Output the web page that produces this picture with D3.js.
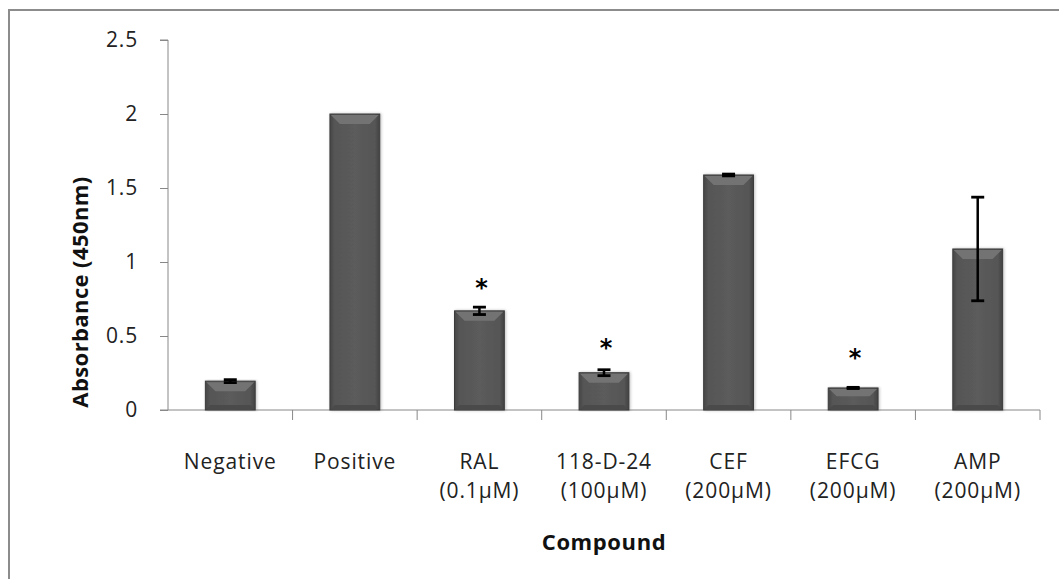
<!DOCTYPE html>
<html><head><meta charset="utf-8">
<script src="https://cdn.jsdelivr.net/npm/d3@7"></script>
<style>
html,body{margin:0;padding:0;background:#fff;}
svg{display:block;}
text{font-family:"Open Sans",sans-serif;}
</style></head>
<body>
<svg id="chart" width="1059" height="579"></svg>
<script>
const categories = [["Negative"],["Positive"],["RAL","(0.1\u00b5M)"],["118-D-24","(100\u00b5M)"],["CEF","(200\u00b5M)"],["EFCG","(200\u00b5M)"],["AMP","(200\u00b5M)"]];
const values = [0.195, 2.0, 0.67, 0.252, 1.588, 0.149, 1.088];
const errors = [0.01, 0.0, 0.025, 0.02, 0.006, 0.004, 0.35];
const asteriskLevels = [null, null, 0.865, 0.46, null, 0.39, null];
const yTicks = [0, 0.5, 1, 1.5, 2, 2.5];
const yTitle = "Absorbance (450nm)";
const xTitle = "Compound";

const svg = d3.select("#chart");
const m = {left:168, right:1040, top:40, bottom:410};
const x = d3.scaleBand().domain(d3.range(categories.length)).range([m.left, m.right]).paddingInner(0.6).paddingOuter(0.3);
const xb = d3.scaleBand().domain(d3.range(categories.length)).range([m.left, m.right]);
const y = d3.scaleLinear().domain([0, 2.5]).range([m.bottom, m.top]);

svg.append("rect").attr("x",9).attr("y",10).attr("width",1100).attr("height",620)
  .attr("fill","none").attr("stroke","#8c8c8c").attr("stroke-width",2);

const defs = svg.append("defs");
const g1 = defs.append("linearGradient").attr("id","barg").attr("x1","0").attr("x2","1").attr("y1","0").attr("y2","0");
g1.append("stop").attr("offset","0").attr("stop-color","#474747");
g1.append("stop").attr("offset","0.1").attr("stop-color","#565656");
g1.append("stop").attr("offset","0.5").attr("stop-color","#5b5b5b");
g1.append("stop").attr("offset","0.9").attr("stop-color","#565656");
g1.append("stop").attr("offset","1").attr("stop-color","#424242");
const f = defs.append("filter").attr("id","sh").attr("x","-20%").attr("y","-5%").attr("width","140%").attr("height","110%");
f.append("feGaussianBlur").attr("in","SourceAlpha").attr("stdDeviation",1.5);
f.append("feOffset").attr("dx",1).attr("dy",0).attr("result","b");
f.append("feComponentTransfer").append("feFuncA").attr("type","linear").attr("slope",0.25);
const mg = f.append("feMerge"); mg.append("feMergeNode"); mg.append("feMergeNode").attr("in","SourceGraphic");

// y axis
const yAxis = d3.axisLeft(y).tickValues(yTicks).tickSize(8).tickPadding(22).tickFormat(d3.format("~g"));
const ya = svg.append("g").attr("transform",`translate(${m.left},0)`).call(yAxis);
ya.select(".domain").attr("stroke","#888").attr("d",`M-8,${m.top}H0V${m.bottom}`);
ya.selectAll(".tick line").attr("stroke","#888");
ya.selectAll(".tick text").attr("fill","#222").style("font-size","21px").style("letter-spacing","0.8px").style("font-family",'"Open Sans",sans-serif');

// x axis
const xAxis = d3.axisBottom(xb).tickSize(0).tickFormat("");
const xa = svg.append("g").attr("transform",`translate(0,${m.bottom})`).call(xAxis);
xa.select(".domain").attr("stroke","#888").attr("d",`M${m.left-8},0H${m.right}`);
xa.selectAll(".tick").remove();
const bounds = d3.range(categories.length+1).map(i => m.left + i*xb.bandwidth());
xa.selectAll("line.sep").data(bounds.slice(1)).join("line").attr("class","sep")
  .attr("x1",d=>d).attr("x2",d=>d).attr("y1",0).attr("y2",10).attr("stroke","#888");

// bars
const bars = svg.append("g").selectAll("g.bar").data(values).join("g").attr("class","bar");
bars.append("rect").attr("x",(d,i)=>x(i)).attr("y",d=>y(d)).attr("width",x.bandwidth())
  .attr("height",d=>y(0)-y(d)).attr("fill","url(#barg)").attr("stroke","#3c3c3c").attr("stroke-width",1).attr("filter","url(#sh)");
bars.append("path").attr("d",(d,i)=>{
  const x0=x(i)+1, x1=x(i)+x.bandwidth()-1, t=y(d)+1, h=Math.min(9,(y(0)-y(d))/3);
  return `M${x0},${t}L${x1},${t}L${x1-h},${t+h}L${x0+h},${t+h}Z`;
}).attr("fill","#737373");
bars.append("path").attr("d",(d,i)=>{
  const x0=x(i)+1, x1=x(i)+x.bandwidth()-1, b=y(0)-1, h=Math.min(4,(y(0)-y(d))/4);
  return `M${x0},${b}L${x1},${b}L${x1-h},${b-h}L${x0+h},${b-h}Z`;
}).attr("fill","#4a4a4a");

// error bars
const errData = values.map((v,i)=>({v,e:errors[i],i})).filter(d=>d.e>0);
const eb = svg.append("g").selectAll("g.err").data(errData).join("g").attr("class","err");
eb.append("line").attr("x1",d=>xb(d.i)+xb.bandwidth()/2).attr("x2",d=>xb(d.i)+xb.bandwidth()/2)
  .attr("y1",d=>y(d.v+d.e)).attr("y2",d=>y(d.v-d.e)).attr("stroke","#000").attr("stroke-width",2.5);
eb.selectAll("line.cap").data(d=>[{i:d.i,val:d.v+d.e},{i:d.i,val:d.v-d.e}]).join("line").attr("class","cap")
  .attr("x1",d=>xb(d.i)+xb.bandwidth()/2-6.5).attr("x2",d=>xb(d.i)+xb.bandwidth()/2+6.5)
  .attr("y1",d=>y(d.val)).attr("y2",d=>y(d.val)).attr("stroke","#000").attr("stroke-width",2.8);

// asterisks
const astData = asteriskLevels.map((l,i)=>({l,i})).filter(d=>d.l!==null);
svg.append("g").selectAll("text").data(astData).join("text")
  .attr("x",d=>xb(d.i)+xb.bandwidth()/2+2).attr("y",d=>y(d.l)+14)
  .attr("text-anchor","middle").style("font-size","24px").style("font-weight","bold")
  .style("font-family","DejaVu Sans, sans-serif").attr("fill","#000").text("*");

// category labels
const cl = svg.append("g").selectAll("text").data(categories).join("text")
  .attr("x",(d,i)=>xb(i)+xb.bandwidth()/2).attr("y",469).attr("text-anchor","middle")
  .style("font-size","21px").style("letter-spacing","0.9px").attr("fill","#222");
cl.selectAll("tspan").data(d=>d).join("tspan").attr("x",function(){return d3.select(this.parentNode).attr("x");})
  .attr("dy",(d,j)=>j?29:0).text(d=>d);

// titles
svg.append("text").attr("x",(m.left+m.right)/2).attr("y",550).attr("text-anchor","middle")
  .style("font-size","22px").style("font-weight","bold").style("letter-spacing","0.6px").attr("fill","#111").text(xTitle);
svg.append("text").attr("transform","translate(88,292) rotate(-90)").attr("text-anchor","middle")
  .style("font-size","22px").style("font-weight","bold").style("letter-spacing","0.4px").attr("fill","#111").text(yTitle);
</script>
</body></html>
